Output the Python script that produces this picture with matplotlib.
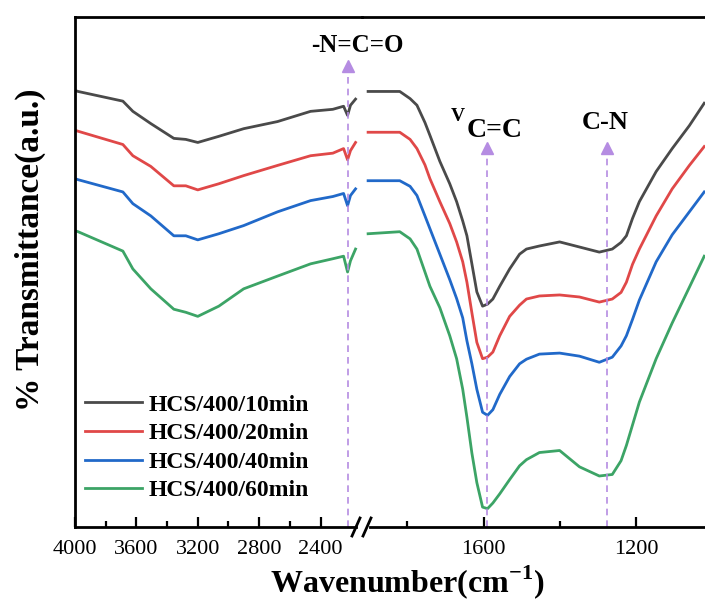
import numpy as np
import matplotlib.pyplot as plt
from matplotlib.lines import Line2D

plt.rcParams['font.family'] = ['Liberation Serif', 'DejaVu Serif']
plt.rcParams['mathtext.fontset'] = 'custom'
plt.rcParams['mathtext.rm'] = 'Liberation Serif:bold'
plt.rcParams['mathtext.bf'] = 'Liberation Serif:bold'

labels = ["HCS/400/10min", "HCS/400/20min", "HCS/400/40min", "HCS/400/60min"]
colors = ["#4a4a4a", "#e04848", "#2169c9", "#3ca466"]

# high wavenumber region (4000 - 2170 cm-1)
wn_hi = [4000, 3980, 3688, 3623, 3506, 3356, 3278, 3200, 3063, 2901, 2680, 2465, 2320, 2250, 2224, 2205, 2172]
t_hi = [
    [85.6, 85.4, 83.5, 81.5, 79.1, 76.2, 76.0, 75.4, 76.6, 78.1, 79.5, 81.5, 81.9, 82.5, 80.7, 82.7, 83.9],
    [77.8, 77.6, 75.0, 72.8, 70.7, 66.9, 66.9, 66.1, 67.3, 68.9, 70.9, 72.8, 73.3, 74.2, 72.0, 73.8, 75.4],
    [68.3, 68.1, 65.7, 63.4, 61.0, 57.1, 57.1, 56.3, 57.5, 59.1, 61.8, 64.0, 64.8, 65.4, 63.0, 65.0, 66.3],
    [58.1, 57.9, 54.1, 50.6, 46.7, 42.7, 42.1, 41.3, 43.3, 46.7, 49.2, 51.6, 52.6, 53.1, 50.0, 52.2, 54.5],
]

# fingerprint region (1900 - 1020 cm-1)
wn_lo = [1903, 1820, 1793, 1775, 1754, 1741, 1715, 1689, 1671, 1655, 1644, 1631, 1618, 1603, 1590, 1576,
         1558, 1532, 1506, 1488, 1454, 1401, 1349, 1297, 1263, 1240, 1226, 1210, 1192, 1148, 1106, 1061, 1022]
t_lo = [
    [85.4, 85.4, 84.0, 82.7, 79.3, 76.8, 71.7, 67.3, 63.8, 60.0, 57.1, 51.6, 46.1, 43.3, 43.7, 44.7,
     47.2, 50.6, 53.5, 54.5, 55.1, 55.9, 54.9, 53.9, 54.5, 55.8, 57.1, 60.5, 63.8, 69.7, 74.2, 78.7, 83.1],
    [77.4, 77.4, 76.0, 74.2, 71.0, 68.3, 63.8, 59.5, 55.9, 52.0, 48.0, 42.0, 36.2, 33.0, 33.3, 34.3,
     37.5, 41.3, 43.5, 44.7, 45.3, 45.5, 45.1, 44.1, 44.7, 46.0, 48.0, 51.5, 54.5, 61.0, 66.3, 70.9, 74.6],
    [67.9, 67.9, 66.8, 65.0, 61.0, 58.5, 53.5, 48.5, 44.8, 41.0, 36.5, 32.0, 27.0, 22.5, 21.9, 23.0,
     26.0, 29.5, 32.0, 32.9, 33.9, 34.1, 33.5, 32.3, 33.3, 35.5, 37.5, 40.7, 44.5, 52.0, 57.3, 61.8, 65.7],
    [57.5, 57.9, 56.5, 54.5, 50.0, 47.2, 43.0, 37.5, 33.0, 27.0, 21.5, 14.5, 8.7, 3.9, 3.6, 4.7,
     6.5, 9.3, 12.0, 13.2, 14.6, 15.0, 11.8, 10.0, 10.3, 13.0, 16.0, 20.0, 24.5, 33.0, 40.0, 47.0, 53.1],
]

peaks = {"nco": 2224, "cc": 1592, "cn": 1276}

fig = plt.figure(figsize=(7.05, 6.1), dpi=100)
bot, top = 1 - 527 / 610, 1 - 17 / 610
ax1 = fig.add_axes([75 / 705, bot, (362 - 75) / 705, top - bot])
ax2 = fig.add_axes([362 / 705, bot, (705 - 362) / 705, top - bot])
ax2.patch.set_visible(False)

for i in range(4):
    ax1.plot(wn_hi, t_hi[i], color=colors[i], lw=2.0, label=labels[i])
    ax2.plot(wn_lo, t_lo[i], color=colors[i], lw=2.0)

ax1.set_xlim(4000, 2130)
ax2.set_xlim(1919, 1020)
for ax in (ax1, ax2):
    ax.set_ylim(0, 100)
    ax.set_yticks([])
    for s in ax.spines.values():
        s.set_linewidth(2.0)
    ax.tick_params(axis='x', which='major', direction='in', length=7, width=1.6, labelsize=16, pad=9)
    ax.tick_params(axis='x', which='minor', direction='in', length=4, width=1.6)
ax1.spines['right'].set_visible(False)
ax2.spines['left'].set_visible(False)
ax2.spines['right'].set_visible(False)
ax1.spines['bottom'].set_bounds(4000, 2172)
ax2.spines['bottom'].set_bounds(1898, 1020)

ax1.set_xticks([4000, 3600, 3200, 2800, 2400])
ax1.set_xticks([3800, 3400, 3000, 2600], minor=True)
ax2.set_xticks([1600, 1200])
ax2.set_xticks([1800, 1400], minor=True)

# break marks
for x0 in (352, 363):
    fig.add_artist(Line2D([x0 / 705, (x0 + 8) / 705], [1 - 536 / 610, 1 - 518 / 610],
                          color='black', lw=2.0, transform=fig.transFigure))

# dashed peak markers
acol = "#b58ce2"
for ax, x, ytip in ((ax1, peaks["nco"], 91.5), (ax2, peaks["cc"], 75.5), (ax2, peaks["cn"], 75.5)):
    ax.vlines(x, 0, ytip - 2, colors=acol, linestyles=(0, (4, 3)), lw=1.2)
    ax.plot([x], [ytip - 1.2], marker='^', ms=8, color=acol, mec=acol, clip_on=False)

fig.text(357 / 705, 1 - 46 / 610, "-N=C=O", ha='center', va='center', fontsize=18, fontweight='bold')
ax2.text(1572, 77.8, "C=C", ha='center', va='center', fontsize=20, fontweight='bold')
ax2.text(1668, 80.4, "V", ha='center', va='center', fontsize=14, fontweight='bold')
ax2.text(peaks["cn"] + 5, 79.3, "C-N", ha='center', va='center', fontsize=19, fontweight='bold')

ax1.legend(loc='lower left', bbox_to_anchor=(0.035, 0.05), frameon=False,
           prop={'weight': 'bold', 'size': 17}, handlelength=2.4, handletextpad=0.3,
           labelspacing=0.3, borderpad=0, borderaxespad=0)

fig.text(407 / 705, 1 - 582 / 610, r"Wavenumber(cm$^{\mathbf{-1}}$)", ha='center', va='center',
         fontsize=23, fontweight='bold')
fig.text(30 / 705, 1 - 250 / 610, "% Transmittance(a.u.)", ha='center', va='center',
         rotation=90, fontsize=24, fontweight='bold')

fig.savefig("out.png", dpi=100)
